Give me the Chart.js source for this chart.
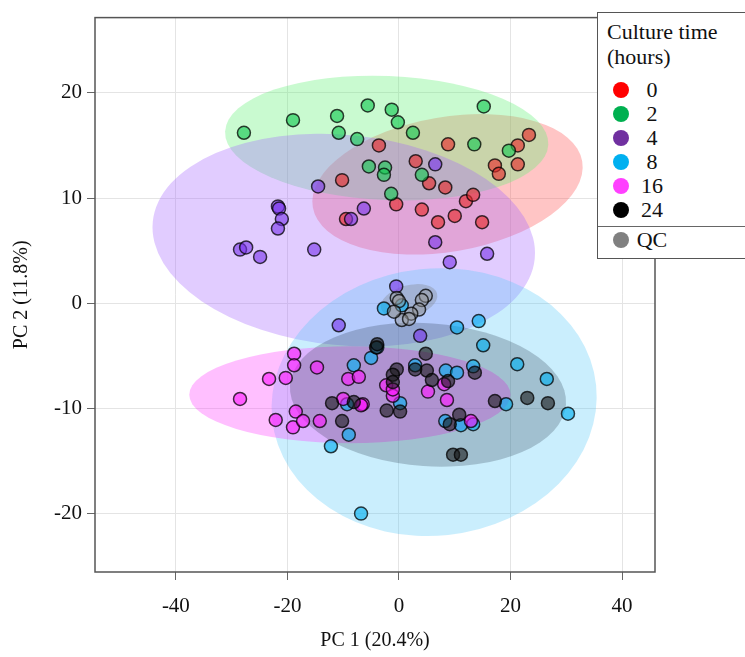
<!DOCTYPE html>
<html>
<head>
<meta charset="utf-8">
<script src="https://cdn.jsdelivr.net/npm/chart.js@4.4.1/dist/chart.umd.min.js"></script>
<style>
  html, body { margin: 0; padding: 0; background: #fff; }
  #wrap { position: relative; width: 745px; height: 657px; overflow: hidden; }
  #c { position: absolute; left: 0; top: 0; }
  #legend {
    position: absolute; left: 597px; top: 12px; width: 170px; height: 247px;
    border: 1px solid #555; background: #fff; box-sizing: border-box;
    font-family: 'Liberation Serif', 'Times New Roman', serif; color: #111;
  }
  #legend .title { position: absolute; left: 9px; top: 6px; font-size: 22px; line-height: 25px; white-space: nowrap; }
  #legend .row { position: absolute; left: 0; height: 24px; width: 100%; }
  #legend .dot { position: absolute; left: 15px; top: 4px; width: 16px; height: 16px; border-radius: 50%; }
  #legend .lab { position: absolute; left: 37px; width: 34px; top: 0; text-align: center; font-size: 22px; line-height: 24px; }
  #legend .sep { position: absolute; left: 0; width: 100%; top: 213px; border-top: 1px solid #666; }
</style>
</head>
<body>
<div id="wrap">
  <canvas id="c" width="745" height="657"></canvas>
  <div id="legend"></div>
</div>
<script>
// ---- Data (PC1, PC2 scores per culture time) ----
const groupLabels = ['0', '2', '4', '8', '16', '24'];
const qcLabel = 'QC';
const legendTitle = ['Culture time', '(hours)'];
const xTitle = 'PC 1 (20.4%)';
const yTitle = 'PC 2 (11.8%)';
const xTicks = [-40, -20, 0, 20, 40];
const yTicks = [-20, -10, 0, 10, 20];

const pc1_0h = [8.8, 3.0, 5.4, 8.3, 12.0, 13.3, 4.1, 7.0, 10.0, 14.9, -0.5, 17.2, 17.9, 21.3, 21.3, 23.3, -3.6, -10.2, -9.5];
const pc2_0h = [15.1, 13.5, 11.4, 11.0, 9.7, 10.3, 8.9, 7.7, 8.3, 7.7, 9.4, 13.1, 12.3, 13.2, 15.0, 16.0, 15.0, 11.7, 8.0];

const pc1_2h = [-27.8, -19.0, -11.1, -5.6, -10.8, -7.5, -1.3, -0.2, 2.5, 15.2, 13.5, 19.7, -5.4, -2.5, -2.7, -1.4, 4.1];
const pc2_2h = [16.2, 17.4, 17.8, 18.8, 16.2, 15.6, 18.4, 17.2, 16.2, 18.7, 15.1, 14.5, 13.0, 12.9, 12.2, 10.4, 12.2];

const pc1_4h = [-14.5, -6.3, -8.6, 6.5, 6.5, 15.8, 9.1, -21.7, -21.5, -21.0, -21.7, -28.5, -27.4, -24.9, -15.2, -0.5, -10.8, 3.8];
const pc2_4h = [11.1, 9.0, 8.0, 13.2, 5.8, 4.7, 3.9, 9.2, 9.0, 8.0, 7.1, 5.1, 5.3, 4.4, 5.1, 1.6, -2.1, -3.1];

const pc1_8h = [-2.7, 0.5, 10.4, 14.3, 15.1, 21.2, 26.5, 30.3, 19.2, 13.3, 8.4, 10.4, 2.9, 0.2, 8.3, 11.1, 13.3, -5.0, -8.1, -9.3, -9.0, -12.2, -6.8, -3.9];
const pc2_8h = [-0.5, -0.2, -2.3, -1.7, -4.0, -5.8, -7.2, -10.5, -9.6, -6.0, -6.4, -6.6, -5.9, -9.5, -11.2, -11.6, -11.5, -5.2, -5.9, -9.6, -12.5, -13.6, -20.0, -4.2];

const pc1_16h = [-28.5, -18.8, -18.8, -14.7, -23.3, -20.3, -9.1, -7.2, -18.5, -22.1, -19.0, -17.2, -14.2, -10.0, -6.5, -6.8, -2.3, -1.1, 5.2, 8.1, 8.6, 12.9, -1.1];
const pc2_16h = [-9.1, -4.8, -5.9, -6.1, -7.2, -7.1, -7.2, -7.0, -10.3, -11.1, -11.8, -11.2, -11.2, -9.1, -9.6, -9.7, -7.8, -8.8, -8.4, -7.7, -9.2, -11.2, -8.2];

const pc1_24h = [-4.1, -0.4, -1.1, -1.1, 4.8, 5.0, 5.9, 2.9, 8.8, 13.6, 17.2, 23.0, 26.7, 10.8, 9.1, 9.7, 11.1, -12.0, -8.1, -10.2, -2.2, 0.2, -3.9];
const pc2_24h = [-4.2, -6.3, -6.8, -7.5, -4.8, -6.4, -7.3, -6.3, -7.4, -6.6, -9.3, -9.0, -9.5, -10.6, -11.5, -14.4, -14.4, -9.5, -9.4, -11.2, -10.2, -10.3, -3.9];

const pc1_qc = [-0.4, 0.0, 4.8, 4.1, 3.6, 2.2, 0.5, -0.9, 1.8];
const pc2_qc = [0.5, 0.2, 0.7, 0.3, -0.6, -1.0, -1.6, -0.8, -1.5];

// Group ellipses (centre, semi-axes in PC units, tilt in degrees) : 0,2,4,8,16,24,QC
const ellCx = [8.7, -2.2, -9.9, 6.3, -8.8, 5.2, 1.8];
const ellCy = [11.3, 15.7, 6.0, -9.4, -8.7, -8.7, 0.2];
const ellRx = [24.5, 29.0, 34.4, 29.2, 28.8, 24.8, 5.2];
const ellRy = [6.4, 5.9, 10.0, 12.7, 4.6, 6.8, 1.5];
const ellTilt = [-9.7, 2.3, 5.5, -6, 0, 4, -15];

// ---- Styles ----
const serif = "'Liberation Serif', 'Times New Roman', serif";
const legendColors = ['#ff0000', '#00b050', '#7030a0', '#00b0f0', '#ff40ff', '#000000', '#808080'];
const pointFills = ['rgba(230,40,40,0.62)', 'rgba(20,200,80,0.62)', 'rgba(120,50,235,0.6)', 'rgba(0,176,240,0.62)', 'rgba(255,20,255,0.6)', 'rgba(20,20,20,0.58)', 'rgba(150,150,150,0.45)'];
const ellFills = ['rgba(255,80,80,0.33)', 'rgba(100,240,120,0.35)', 'rgba(165,100,255,0.33)', 'rgba(80,200,250,0.30)', 'rgba(255,60,255,0.33)', 'rgba(20,30,50,0.22)', 'rgba(120,120,120,0.3)'];

const xs = [pc1_0h, pc1_2h, pc1_4h, pc1_8h, pc1_16h, pc1_24h, pc1_qc];
const ys = [pc2_0h, pc2_2h, pc2_4h, pc2_8h, pc2_16h, pc2_24h, pc2_qc];
const names = groupLabels.concat([qcLabel]);

const datasets = xs.map((xa, i) => ({
  label: names[i],
  data: xa.map((x, j) => ({ x: x, y: ys[i][j] })),
  backgroundColor: pointFills[i],
  borderColor: 'rgba(0,0,0,0.75)',
  borderWidth: 1.5,
  pointRadius: 6.5,
  pointHoverRadius: 6.5,
  order: 7 - i
}));

const ellipsePlugin = {
  id: 'ellipses',
  beforeDatasetsDraw(chart) {
    const { ctx, chartArea, scales: { x, y } } = chart;
    ctx.save();
    ctx.beginPath();
    ctx.rect(chartArea.left, chartArea.top, chartArea.right - chartArea.left, chartArea.bottom - chartArea.top);
    ctx.clip();
    for (let i = 0; i < ellCx.length; i++) {
      const cx = x.getPixelForValue(ellCx[i]);
      const cy = y.getPixelForValue(ellCy[i]);
      const rx = Math.abs(x.getPixelForValue(ellCx[i] + ellRx[i]) - cx);
      const ry = Math.abs(y.getPixelForValue(ellCy[i] + ellRy[i]) - cy);
      ctx.beginPath();
      ctx.ellipse(cx, cy, rx, ry, ellTilt[i] * Math.PI / 180, 0, Math.PI * 2);
      ctx.fillStyle = ellFills[i];
      ctx.fill();
    }
    ctx.restore();
  }
};

const framePlugin = {
  id: 'frame',
  afterDraw(chart) {
    const { ctx, chartArea: a } = chart;
    ctx.save();
    ctx.strokeStyle = '#555';
    ctx.lineWidth = 1.5;
    ctx.strokeRect(a.left, a.top, a.right - a.left, a.bottom - a.top);
    ctx.restore();
  }
};

new Chart(document.getElementById('c'), {
  type: 'scatter',
  data: { datasets },
  plugins: [ellipsePlugin, framePlugin],
  options: {
    responsive: false,
    animation: false,
    devicePixelRatio: 1,
    layout: { padding: { top: 12, right: 90, bottom: 0, left: 0 } },
    plugins: { legend: { display: false }, tooltip: { enabled: false } },
    scales: {
      x: {
        type: 'linear', min: -54.5, max: 45.9,
        afterBuildTicks: s => { s.ticks = xTicks.map(v => ({ value: v })); },
        afterFit: s => { s.height = 85; },
        grid: { color: '#e4e4e4', lineWidth: 1, drawTicks: true, tickLength: 8, tickColor: '#666', tickWidth: 1 },
        border: { display: false },
        ticks: { padding: 14, color: '#111', font: { family: serif, size: 21 } },
        title: { display: true, text: xTitle, color: '#111', font: { family: serif, size: 20 }, padding: { top: 0, bottom: 4 } }
      },
      y: {
        type: 'linear', min: -25.55, max: 27.15,
        afterBuildTicks: s => { s.ticks = yTicks.map(v => ({ value: v })); },
        afterFit: s => { s.width = 95; },
        grid: { color: '#e4e4e4', lineWidth: 1, drawTicks: true, tickLength: 8, tickColor: '#666', tickWidth: 1 },
        border: { display: false },
        ticks: { padding: 5, color: '#111', font: { family: serif, size: 21 } },
        title: { display: true, text: yTitle, color: '#111', font: { family: serif, size: 20 }, padding: { top: 10, bottom: 0 } }
      }
    }
  }
});

// ---- HTML legend built from the same arrays ----
const leg = document.getElementById('legend');
const t = document.createElement('div');
t.className = 'title';
t.innerHTML = legendTitle.join('<br>');
leg.appendChild(t);
names.forEach((n, i) => {
  const r = document.createElement('div');
  r.className = 'row';
  const top = i < groupLabels.length ? 65 + i * 24 : 215;
  r.style.top = top + 'px';
  const d = document.createElement('div');
  d.className = 'dot';
  d.style.background = legendColors[i];
  const l = document.createElement('div');
  l.className = 'lab';
  l.textContent = n;
  r.appendChild(d); r.appendChild(l);
  leg.appendChild(r);
});
const sep = document.createElement('div');
sep.className = 'sep';
leg.appendChild(sep);
</script>
</body>
</html>
